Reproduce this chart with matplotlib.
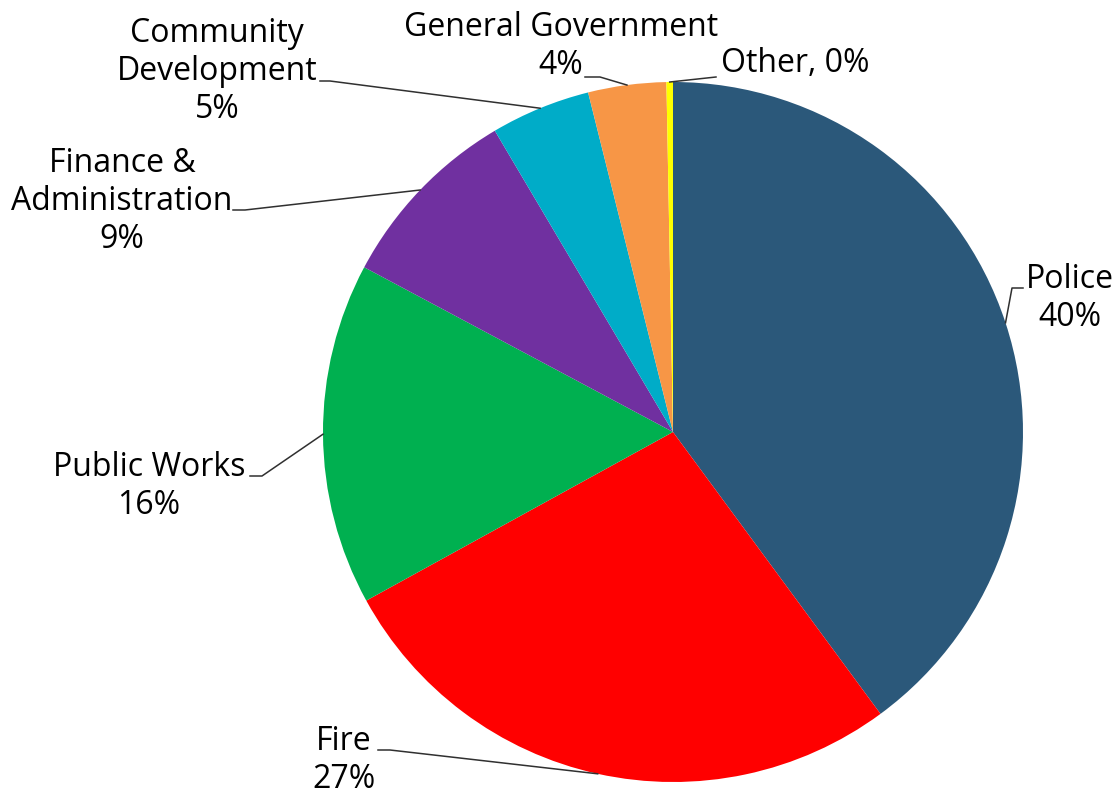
import matplotlib
matplotlib.use('Agg')
import matplotlib.pyplot as plt
import numpy as np

plt.rcParams['font.family'] = ['Open Sans', 'DejaVu Sans']

# 数据
CATEGORIES = ['Police', 'Fire', 'Public Works', 'Finance &\nAdministration',
              'Community\nDevelopment', 'General Government', 'Other']
VALUES = [39.9, 27.1, 15.8, 8.7, 4.6, 3.6, 0.3]
COLORS = ['#2B587A', '#FF0000', '#00B050', '#7030A0', '#00ACC8', '#F79646', '#FFFF00']

# 标签位置（像素坐标）与引线拐点
LABEL_POS = [(1070, 298), (344, 760), (149, 486), (122, 201), (217, 72), (561, 46), (721, 64)]
LABEL_HA = ['center', 'center', 'center', 'center', 'center', 'center', 'left']
LEADER = [[(1012, 288), (1023, 288)],
          [(390, 750), (378, 750)],
          [(262, 476), (250, 476)],
          [(245, 210), (233, 210)],
          [(330, 81), (320, 81)],
          [(600, 77), (585, 77)],
          [(716, 77)]]

W, H = 1116, 795
CX, CY, R = 673, 432, 350


def main():
    fig = plt.figure(figsize=(W / 100, H / 100), dpi=100)
    ax = fig.add_axes([0, 0, 1, 1])

    total = sum(VALUES)
    wedges, _ = ax.pie(VALUES, colors=COLORS, startangle=90, counterclock=False,
                       center=(CX, H - CY), radius=R,
                       wedgeprops=dict(linewidth=0))
    ax.set_xlim(0, W)
    ax.set_ylim(0, H)
    ax.set_aspect('equal')
    ax.axis('off')

    for w, name, val, pos, ha, lead in zip(wedges, CATEGORIES, VALUES, LABEL_POS, LABEL_HA, LEADER):
        pct = round(val / total * 100)
        if name == 'Other':
            txt = f'{name}, {pct}%'
        else:
            txt = f'{name}\n{pct}%'
        ax.text(pos[0], H - pos[1], txt, ha=ha, va='center', fontsize=23,
                linespacing=1.2, color='black')
        mid = np.deg2rad((w.theta1 + w.theta2) / 2)
        x0 = CX + R * np.cos(mid)
        y0 = (H - CY) + R * np.sin(mid)
        xs = [x0] + [p[0] for p in lead]
        ys = [y0] + [H - p[1] for p in lead]
        ax.plot(xs, ys, color='#303030', linewidth=1.1)

    plt.savefig('out.png', dpi=100)


if __name__ == '__main__':
    main()
